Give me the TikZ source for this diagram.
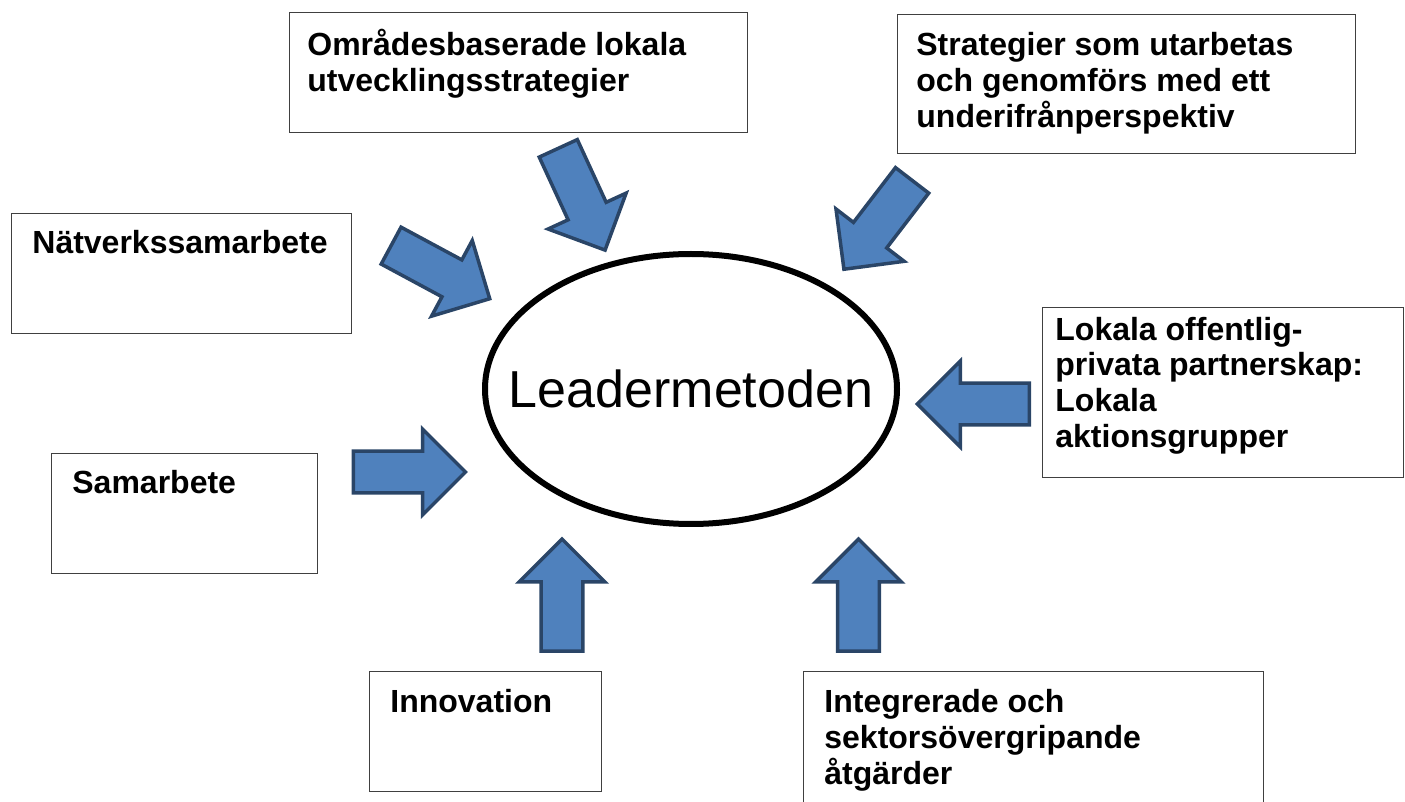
\documentclass[tikz,border=0pt]{standalone}
\usepackage{fontspec}
\setmainfont{Liberation Sans}
\usetikzlibrary{shapes.geometric,shapes.arrows}

\definecolor{arrowfill}{HTML}{4F81BD}
\definecolor{arrowline}{HTML}{2A4567}

\begin{document}
\begin{tikzpicture}[x=0.5pt,y=-0.5pt,
  box/.style={draw=black!75,line width=0.7pt,anchor=north west,inner sep=0pt},
  boxtext/.style={anchor=base west,inner sep=0pt,align=left,
    font=\fontsize{16}{18}\selectfont\bfseries},
  blockarrow/.style={single arrow,draw=arrowline,fill=arrowfill,line width=1.75pt,
    inner sep=9.6pt,minimum height=56pt,single arrow head extend=11pt}]
\useasboundingbox (0,0) rectangle (1405,802);

% the boxes round the method (text placed by its last baseline)
\node[box,minimum width=229pt,minimum height=60pt] (omr) at (289,12) {};
\node[boxtext] (omrtxt) at (307,92) {Områdesbaserade lokala\\utvecklingsstrategier};

\node[box,minimum width=229pt,minimum height=69.5pt] (strat) at (897,14) {};
\node[boxtext] (strattxt) at (916,128) {Strategier som utarbetas\\och genomförs med ett\\underifrånperspektiv};

\node[box,minimum width=170pt,minimum height=60pt] (natv) at (11,213) {};
\node[boxtext] (natvtxt) at (32,254) {Nätverkssamarbete};

\node[box,minimum width=133pt,minimum height=60pt] (samarb) at (51,453) {};
\node[boxtext] (samarbtxt) at (72,494) {Samarbete};

\node[box,minimum width=180.5pt,minimum height=85pt] (lokala) at (1042,307) {};
\node[boxtext] (lokalatxt) at (1055,448) {Lokala offentlig-\\privata partnerskap:\\Lokala\\aktionsgrupper};

\node[box,minimum width=116pt,minimum height=60pt] (innov) at (369,671) {};
\node[boxtext] (innovtxt) at (390,712) {Innovation};

\node[box,minimum width=230pt,minimum height=70pt] (integr) at (803,671) {};
\node[boxtext] (integrtxt) at (824,784) {Integrerade och\\sektorsövergripande\\åtgärder};

% centre
\node[ellipse,draw,line width=3pt,minimum width=206pt,minimum height=135pt,inner sep=0pt] (lead) at (691,389) {};
\node[font=\fontsize{26}{30}\selectfont] (leadtxt) at (lead) {Leadermetoden};

% block arrows towards the centre
\node[blockarrow,rotate=-28.3] (arNatv) at (431.2,267.2) {};
\node[blockarrow,rotate=-65.3] (arOmr) at (577.3,189.7) {};
\node[blockarrow,rotate=-127.5] (arStrat) at (884.4,216.5) {};
\node[blockarrow,rotate=180] (arLokala) at (983.8,404) {};
\node[blockarrow] (arSamarb) at (399,472) {};
\node[blockarrow,rotate=90] (arInnov) at (562,605.5) {};
\node[blockarrow,rotate=90] (arIntegr) at (858.5,605.5) {};
\end{tikzpicture}
\end{document}
